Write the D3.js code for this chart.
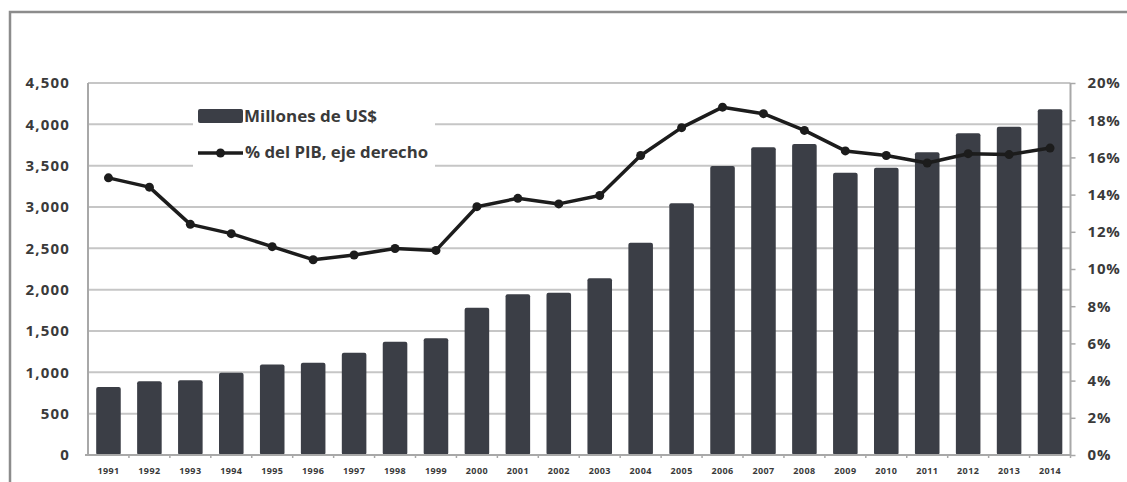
<!DOCTYPE html>
<html>
<head>
<meta charset="utf-8">
<script src="https://cdn.jsdelivr.net/npm/d3@7"></script>
<style>
  html, body { margin: 0; padding: 0; background: #fff; overflow: hidden; }
  svg { display: block; }
  text { font-family: "Open Sans", Lato, sans-serif; font-weight: 700; fill: #3a3a3a; }
</style>
</head>
<body>
<svg id="chart" width="1127" height="482"></svg>
<script>
// Annual figures, 1991–2014
const years = ["1991","1992","1993","1994","1995","1996","1997","1998","1999","2000","2001","2002",
               "2003","2004","2005","2006","2007","2008","2009","2010","2011","2012","2013","2014"];
// Millions of US$ (bars, left axis)
const millones = [822, 893, 905, 994, 1095, 1117, 1236, 1371, 1411, 1782, 1944, 1963,
                  2137, 2568, 3045, 3496, 3722, 3762, 3415, 3476, 3661, 3891, 3971, 4182];
// Percent of GDP (line, right axis)
const pctPIB = [14.9, 14.4, 12.4, 11.9, 11.2, 10.5, 10.75, 11.1, 11.0, 13.35, 13.8, 13.5,
                13.95, 16.1, 17.6, 18.7, 18.35, 17.45, 16.35, 16.1, 15.7, 16.2, 16.15, 16.5];
// Axis ticks
const leftTicks = [0, 500, 1000, 1500, 2000, 2500, 3000, 3500, 4000, 4500];
const rightTicks = [0, 2, 4, 6, 8, 10, 12, 14, 16, 18, 20];
// Legend entries
const legendBar = "Millones de US$";
const legendLine = "% del PIB, eje derecho";

const svg = d3.select("#chart");
const plotLeft = 88, plotRight = 1070.5, plotTop = 83, plotBottom = 455;

const x = d3.scaleBand().domain(years).range([plotLeft, plotRight]).paddingInner(0.4).paddingOuter(0.2);
const yL = d3.scaleLinear().domain([0, 4500]).range([plotBottom, plotTop]);
const yR = d3.scaleLinear().domain([0, 20]).range([plotBottom, plotTop]);

// Outer frame (top and left edges)
svg.append("path")
  .attr("d", "M10,482 L10,12 L1127,12")
  .attr("fill", "none").attr("stroke", "#8c8c8c").attr("stroke-width", 2.5);

// Horizontal gridlines
svg.append("g").selectAll("line").data(leftTicks.filter(d => d > 0)).join("line")
  .attr("x1", plotLeft).attr("x2", plotRight)
  .attr("y1", d => yL(d)).attr("y2", d => yL(d))
  .attr("stroke", "#c6c6c6").attr("stroke-width", 2);

// Bars
const barColor = "#3b3e46";
svg.append("g").selectAll("rect").data(years).join("rect")
  .attr("x", d => x(d))
  .attr("width", x.bandwidth())
  .attr("y", (d, i) => yL(millones[i]))
  .attr("height", (d, i) => plotBottom - yL(millones[i]))
  .attr("rx", 2)
  .attr("fill", barColor);

// Legend background hides gridlines behind the legend
svg.append("rect").attr("x", 193).attr("y", 98).attr("width", 242).attr("height", 72).attr("fill", "#fff");

// Axis lines
const axisColor = "#a8a8a8";
svg.append("line").attr("x1", plotLeft).attr("x2", plotLeft).attr("y1", plotTop).attr("y2", plotBottom)
  .attr("stroke", axisColor).attr("stroke-width", 2);
svg.append("line").attr("x1", plotRight).attr("x2", plotRight).attr("y1", plotTop).attr("y2", plotBottom)
  .attr("stroke", axisColor).attr("stroke-width", 2);
svg.append("line").attr("x1", plotLeft - 3).attr("x2", plotRight).attr("y1", plotBottom).attr("y2", plotBottom)
  .attr("stroke", axisColor).attr("stroke-width", 2);

// Category boundary ticks on the bottom axis
const bounds = years.slice(1).map(d => x(d) - x.step() * x.paddingInner() / 2);
bounds.push(plotRight);
svg.append("g").selectAll("line").data(bounds).join("line")
  .attr("x1", d => d).attr("x2", d => d)
  .attr("y1", plotBottom).attr("y2", plotBottom + 3)
  .attr("stroke", axisColor).attr("stroke-width", 1.5);

// Left axis labels
const gL = svg.append("g").attr("transform", `translate(${plotLeft},0)`)
  .call(d3.axisLeft(yL).tickValues(leftTicks).tickFormat(d3.format(",")).tickSize(0).tickPadding(18));
gL.select(".domain").remove();
gL.selectAll("text").style("font-size", "15px").style("letter-spacing", "1.2px");

// Right axis with outward ticks
const gR = svg.append("g").attr("transform", `translate(${plotRight},0)`)
  .call(d3.axisRight(yR).tickValues(rightTicks).tickFormat(d => d + "%").tickSize(5).tickPadding(12));
gR.select(".domain").remove();
gR.selectAll("line").attr("stroke", axisColor).attr("stroke-width", 1.5);
gR.selectAll("text").style("font-size", "15px").style("letter-spacing", "0.8px");

// Bottom axis year labels
const gB = svg.append("g").attr("transform", `translate(0,${plotBottom})`)
  .call(d3.axisBottom(x).tickSize(0).tickPadding(13));
gB.select(".domain").remove();
gB.selectAll("text").style("font-size", "9px").style("letter-spacing", "0.4px");

// Percent-of-GDP line with markers
const line = d3.line().x((d, i) => x(years[i]) + x.bandwidth() / 2).y(d => yR(d));
svg.append("path").datum(pctPIB)
  .attr("d", line).attr("fill", "none")
  .attr("stroke", "#1c1c1c").attr("stroke-width", 3.5).attr("stroke-linejoin", "round");
svg.append("g").selectAll("circle").data(pctPIB).join("circle")
  .attr("cx", (d, i) => x(years[i]) + x.bandwidth() / 2)
  .attr("cy", d => yR(d))
  .attr("r", 4.5).attr("fill", "#1c1c1c");

// Legend
svg.append("rect").attr("x", 198).attr("y", 109).attr("width", 45).attr("height", 14).attr("rx", 2)
  .attr("fill", barColor);
svg.append("text").attr("x", 244).attr("y", 122).text(legendBar)
  .attr("textLength", 133).attr("lengthAdjust", "spacingAndGlyphs")
  .style("font-size", "16px");
svg.append("line").attr("x1", 198).attr("x2", 243).attr("y1", 153).attr("y2", 153)
  .attr("stroke", "#1c1c1c").attr("stroke-width", 3.5);
svg.append("circle").attr("cx", 220.5).attr("cy", 153).attr("r", 4.5).attr("fill", "#1c1c1c");
svg.append("text").attr("x", 245).attr("y", 158).text(legendLine)
  .attr("textLength", 183).attr("lengthAdjust", "spacingAndGlyphs")
  .style("font-size", "16px");
</script>
</body>
</html>
